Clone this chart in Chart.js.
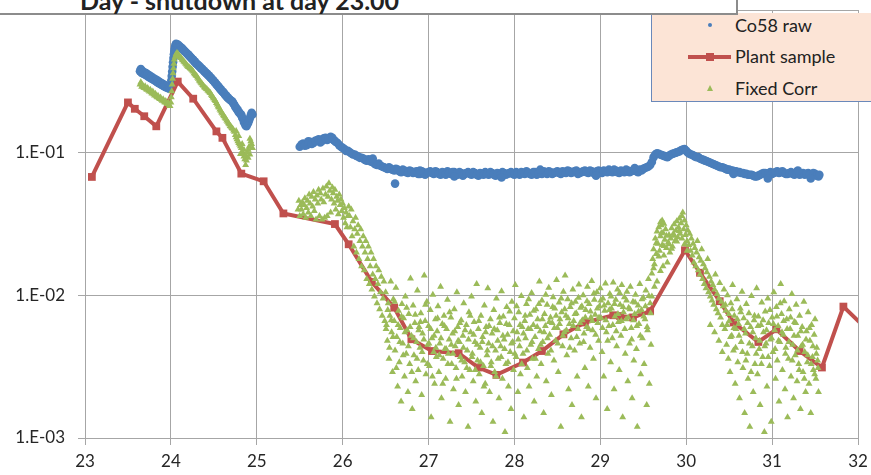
<!DOCTYPE html>
<html lang="en">
<head>
    <meta charset="UTF-8">
    <title>Co58 - shutdown at day 23.00</title>
    <script src="https://cdn.jsdelivr.net/npm/chart.js@4.4.0/dist/chart.umd.min.js"></script>
    <style>
        * { margin: 0; padding: 0; box-sizing: border-box; }
        body { width: 871px; height: 475px; overflow: hidden; background: #fff; font-family: Lato, 'Open Sans', sans-serif; }
        #page { position: relative; width: 871px; height: 475px; overflow: hidden; }
        #chart { position: absolute; left: 0; top: 0; display: block; }
        #titleBox {
            position: absolute; left: 0; top: -22px; width: 738px; height: 37px;
            background: #fff; border-right: 2px solid #8c8c8c; border-bottom: 2px solid #8c8c8c;
            z-index: 3;
        }
        #titleBox span {
            position: absolute; left: 80px; top: 7px; white-space: nowrap;
            font-weight: bold; font-size: 25px; line-height: 30px; color: #222;
        }
        #legendBox {
            position: absolute; left: 651px; top: 13px; width: 230px; height: 89px;
            background: #fce4d6; border: 1px solid #6a88ba; border-top: none; z-index: 2;
        }
        .item { position: absolute; left: 83px; font-size: 18px; line-height: 20px; color: #222; white-space: nowrap; }
        .mk { position: absolute; }
    </style>
</head>
<body>
<div id="page">
    <canvas id="chart" width="871" height="475"></canvas>
    <div id="legendBox">
        <div class="mk" style="left:56px; top:10px; width:4px; height:4px; border-radius:2px; background:#4a7ebb;"></div>
        <div class="item" style="top:1.5px;">Co58 raw</div>
        <div class="mk" style="left:36px; top:42px; width:43px; height:4px; background:#c0504d;"></div>
        <div class="mk" style="left:54px; top:40px; width:8px; height:8px; background:#c0504d;"></div>
        <div class="item" style="top:33px;">Plant sample</div>
        <div class="mk" style="left:55px; top:72px; width:0; height:0; border-left:3.5px solid transparent; border-right:3.5px solid transparent; border-bottom:6px solid #9bbb59;"></div>
        <div class="item" style="top:64.5px;">Fixed Corr</div>
    </div>
    <div id="titleBox"><span>Day - shutdown at day 23.00</span></div>
</div>

<script>
    // axis ticks
    const xTicks = [23, 24, 25, 26, 27, 28, 29, 30, 31, 32]
    const yTicks = [0.001, 0.01, 0.1, 1]
    const yTickLabels = ['1.E-03', '1.E-02', '1.E-01', '1.E+00']

    // Plant sample (line with squares)
    const plantDays = [23.08, 23.50, 23.58, 23.69, 23.83, 24.08, 24.26, 24.53, 24.60, 24.82, 25.08, 25.31, 25.91, 26.07, 26.34, 26.60, 26.80, 27.04, 27.35, 27.58, 27.79, 28.10, 28.32, 28.57, 28.82, 29.15, 29.23, 29.38, 29.58, 29.985, 30.16, 30.39, 30.55, 30.84, 31.05, 31.32, 31.58, 31.83, 32.10]
    const plantVals = [0.0676, 0.225, 0.203, 0.180, 0.153, 0.315, 0.239, 0.141, 0.127, 0.0713, 0.063, 0.0375, 0.0316, 0.0228, 0.0124, 0.0082, 0.00492, 0.00407, 0.00393, 0.00312, 0.00277, 0.00338, 0.00407, 0.00533, 0.00645, 0.00725, 0.00716, 0.00700, 0.00776, 0.0207, 0.0144, 0.0091, 0.00645, 0.00471, 0.00578, 0.00407, 0.00312, 0.00834, 0.0058]

    // Co58 raw
    const co58Early = [
        [23.64,0.372],[23.65,0.385],[23.66,0.362],[23.67,0.374],[23.68,0.358],[23.69,0.366],[23.70,0.352],[23.71,0.361],[23.72,0.346],[23.73,0.354],
        [23.74,0.340],[23.75,0.347],[23.76,0.334],[23.77,0.341],[23.78,0.329],[23.79,0.335],[23.80,0.323],[23.81,0.330],[23.82,0.318],[23.83,0.324],
        [23.84,0.312],[23.85,0.319],[23.86,0.307],[23.87,0.313],[23.88,0.302],[23.89,0.308],[23.90,0.297],[23.91,0.303],[23.92,0.292],[23.93,0.298],
        [23.94,0.288],[23.95,0.293],[23.96,0.284],[23.97,0.290],[23.98,0.281],[23.99,0.287],
        [24.00,0.30],[24.005,0.32],[24.01,0.345],[24.015,0.37],[24.02,0.40],[24.025,0.43],[24.03,0.46],[24.035,0.49],[24.04,0.515],[24.045,0.54],
        [24.05,0.555],[24.055,0.57],[24.06,0.58],[24.065,0.575],[24.07,0.568]
    ]
    const co58Peak = [
        [24.08,0.572],[24.09,0.561],[24.10,0.558],[24.11,0.548],[24.12,0.545],[24.13,0.534],[24.14,0.532],[24.15,0.520],[24.16,0.515],[24.17,0.508],
        [24.18,0.502],[24.19,0.492],[24.20,0.490],[24.21,0.478],[24.22,0.475],[24.23,0.464],[24.24,0.460],[24.25,0.452],[24.26,0.447],[24.27,0.438],
        [24.28,0.435],[24.29,0.424],[24.30,0.420],[24.31,0.414],[24.32,0.410],[24.33,0.402],[24.34,0.400],[24.35,0.391],[24.36,0.388],[24.37,0.381],
        [24.38,0.378],[24.39,0.370],[24.40,0.368],[24.41,0.361],[24.42,0.358],[24.43,0.350],[24.44,0.348],[24.45,0.341],[24.46,0.338],[24.47,0.331],
        [24.48,0.328],[24.49,0.321],[24.50,0.318],[24.51,0.311],[24.52,0.308],[24.53,0.300],[24.54,0.298],[24.55,0.291],[24.56,0.288],[24.57,0.281],
        [24.58,0.278],[24.59,0.272],[24.60,0.269],[24.61,0.264],[24.62,0.262],[24.63,0.255],[24.64,0.252],[24.65,0.247],[24.66,0.244],[24.67,0.240],
        [24.68,0.238],[24.69,0.234],[24.70,0.232],[24.71,0.229],[24.72,0.226],[24.73,0.220],[24.74,0.216],[24.75,0.209],[24.76,0.206],[24.77,0.201],
        [24.78,0.198],[24.79,0.192],[24.80,0.190],[24.81,0.186],[24.82,0.184],[24.83,0.176],[24.84,0.172],[24.85,0.164],[24.86,0.160],[24.87,0.155],
        [24.88,0.153],[24.89,0.158],[24.90,0.162],[24.91,0.168],[24.92,0.175],[24.93,0.183],[24.94,0.190],[24.95,0.185]
    ]
    const co58Late = [
        [25.50,0.110],[25.54,0.116],[25.58,0.113],[25.62,0.119],[25.66,0.117],[25.70,0.122],[25.74,0.118],[25.78,0.126],[25.82,0.123],[25.86,0.129],
        [25.90,0.122],[25.94,0.117],[25.98,0.110],[26.02,0.106],[26.06,0.103],[26.10,0.099],[26.14,0.097],[26.18,0.094],[26.22,0.092],[26.26,0.089],
        [26.30,0.090],[26.34,0.086],[26.38,0.083],[26.42,0.084],[26.46,0.080],[26.50,0.078],[26.54,0.079],[26.58,0.076],[26.62,0.077],[26.66,0.074],
        [26.70,0.076],[26.74,0.073],[26.78,0.075],[26.82,0.072],[26.86,0.074],[26.90,0.071],[26.94,0.073],[26.98,0.072],[27.02,0.074],[27.06,0.071],
        [27.10,0.073],[27.14,0.070],[27.18,0.072],[27.22,0.074],[27.26,0.071],[27.30,0.073],[27.34,0.070],[27.38,0.072],[27.42,0.071],[27.46,0.073],
        [27.50,0.070],[27.54,0.072],[27.58,0.069],[27.62,0.071],[27.66,0.073],[27.70,0.070],[27.74,0.072],[27.78,0.069],[27.82,0.071],[27.86,0.073],
        [27.90,0.070],[27.94,0.072],[27.98,0.071],[28.02,0.073],[28.06,0.070],[28.10,0.072],[28.14,0.074],[28.18,0.071],[28.22,0.073],[28.26,0.070],
        [28.30,0.072],[28.34,0.074],[28.38,0.071],[28.42,0.073],[28.46,0.072],[28.50,0.074],[28.54,0.071],[28.58,0.073],[28.62,0.075],[28.66,0.072],
        [28.70,0.074],[28.74,0.071],[28.78,0.073],[28.82,0.075],[28.86,0.072],[28.90,0.074],[28.94,0.073],[28.98,0.075],[29.02,0.072],[29.06,0.074],
        [29.10,0.076],[29.14,0.073],[29.18,0.075],[29.22,0.072],[29.26,0.074],[29.30,0.076],[29.34,0.073],[29.38,0.075],[29.42,0.074],[29.46,0.076],
        [29.50,0.077],[29.54,0.079],[29.58,0.082],[29.62,0.093],[29.66,0.099],[29.70,0.097],[29.74,0.095],[29.78,0.093],[29.82,0.097],[29.86,0.099],
        [29.90,0.101],[29.94,0.104],[29.98,0.106],[30.02,0.100],[30.06,0.097],[30.10,0.094],[30.14,0.093],[30.18,0.090],[30.22,0.088],[30.26,0.086],
        [30.30,0.084],[30.34,0.082],[30.38,0.080],[30.42,0.079],[30.46,0.077],[30.50,0.076],[30.54,0.075],[30.58,0.074],[30.62,0.073],[30.66,0.072],
        [30.70,0.071],[30.74,0.070],[30.78,0.069],[30.82,0.068],[30.86,0.070],[30.90,0.072],[30.94,0.071],[30.98,0.073],[31.02,0.072],[31.06,0.074],
        [31.10,0.073],[31.14,0.072],[31.18,0.071],[31.22,0.073],[31.26,0.070],[31.30,0.072],[31.34,0.071],[31.38,0.070],[31.42,0.072],[31.46,0.069],
        [31.50,0.071],[31.54,0.068],[26.61,0.0607]
    ]
    const co58Fill = [
        [25.52,0.114],[25.56,0.112],[25.60,0.120],[25.64,0.115],[25.68,0.121],[25.72,0.124],[25.76,0.121],[25.80,0.127],[25.84,0.125],[25.88,0.127],
        [25.92,0.119],[25.96,0.113],[26.00,0.108],[26.04,0.103],[26.08,0.101],[26.12,0.097],[26.16,0.095],[26.20,0.092],[26.24,0.091],[26.28,0.088],
        [26.32,0.087],[26.36,0.085],[26.40,0.082],[26.44,0.081],[26.48,0.079],[26.52,0.077],[26.56,0.077],[26.60,0.075],[26.64,0.076],[26.68,0.073],
        [26.72,0.075],[26.76,0.072],[26.80,0.074],[26.84,0.073],[26.88,0.071],[26.92,0.074],[26.96,0.070],[27.00,0.073],[27.04,0.072],[27.08,0.074],
        [27.12,0.071],[27.16,0.073],[27.20,0.070],[27.24,0.072],[27.28,0.073],[27.32,0.071],[27.36,0.073],[27.40,0.069],[27.44,0.072],[27.48,0.071],
        [27.52,0.073],[27.56,0.070],[27.60,0.072],[27.64,0.070],[27.68,0.071],[27.72,0.073],[27.76,0.070],[27.80,0.072],[27.84,0.070],[27.88,0.072],
        [27.92,0.071],[27.96,0.073],[28.00,0.070],[28.04,0.072],[28.08,0.073],[28.12,0.071],[28.16,0.072],[28.20,0.070],[28.24,0.073],[28.28,0.072],
        [28.32,0.071],[28.36,0.073],[28.40,0.074],[28.44,0.071],[28.48,0.073],[28.52,0.072],[28.56,0.074],[28.60,0.072],[28.64,0.074],[28.68,0.073],
        [28.72,0.075],[28.76,0.072],[28.80,0.074],[28.84,0.073],[28.88,0.075],[28.92,0.072],[28.96,0.074],[29.00,0.073],[29.04,0.075],[29.08,0.073],
        [29.12,0.074],[29.16,0.076],[29.20,0.073],[29.24,0.075],[29.28,0.073],[29.32,0.075],[29.36,0.074],[29.40,0.076],[29.44,0.073],[29.48,0.075],
        [29.52,0.078],[29.56,0.080],[29.60,0.086],[29.64,0.097],[29.68,0.098],[29.72,0.096],[29.76,0.094],[29.80,0.095],[29.84,0.098],[29.88,0.100],
        [29.92,0.102],[29.96,0.105],[30.00,0.103],[30.04,0.098],[30.08,0.096],[30.12,0.093],[30.16,0.091],[30.20,0.089],[30.24,0.087],[30.28,0.085],
        [30.32,0.083],[30.36,0.081],[30.40,0.079],[30.44,0.078],[30.48,0.076],[30.52,0.075],[30.56,0.074],[30.60,0.073],[30.64,0.072],[30.68,0.071],
        [30.72,0.070],[30.76,0.070],[30.80,0.068],[30.84,0.069],[30.88,0.071],[30.92,0.072],[30.96,0.072],[31.00,0.071],[31.04,0.073],[31.08,0.072],
        [31.12,0.074],[31.16,0.071],[31.20,0.072],[31.24,0.071],[31.28,0.073],[31.32,0.070],[31.36,0.072],[31.40,0.071],[31.44,0.070],[31.48,0.072],
        [31.52,0.069],[31.55,0.070],
        [26.35,0.091],[26.90,0.075],[27.30,0.068],[27.85,0.067],[28.30,0.076],[28.95,0.069],[29.40,0.078],[30.55,0.071],[30.95,0.066],[31.30,0.075],[31.45,0.066]
    ]

    // Fixed Corr
    const fixedEarly = [
        [23.64,0.300],[23.65,0.312],[23.66,0.290],[23.67,0.298],[23.68,0.288],[23.69,0.284],[23.70,0.292],[23.71,0.281],[23.72,0.276],[23.73,0.284],
        [23.74,0.273],[23.75,0.268],[23.76,0.276],[23.77,0.265],[23.78,0.260],[23.79,0.268],[23.80,0.257],[23.81,0.252],[23.82,0.259],[23.83,0.249],
        [23.84,0.245],[23.85,0.251],[23.86,0.242],[23.87,0.238],[23.88,0.244],[23.89,0.235],[23.90,0.231],[23.91,0.237],[23.92,0.228],[23.93,0.225],
        [23.94,0.230],[23.95,0.222],[23.96,0.219],[23.97,0.224],[23.98,0.214],[23.99,0.212],
        [24.00,0.225],[24.005,0.245],[24.01,0.27],[24.015,0.30],[24.02,0.33],[24.025,0.36],[24.03,0.39],[24.035,0.42],[24.04,0.45],[24.05,0.47],
        [24.06,0.49],[24.07,0.50]
    ]
    const fixedPeak = [
        [24.08,0.495],[24.09,0.482],[24.10,0.475],[24.11,0.466],[24.12,0.460],[24.13,0.450],[24.14,0.445],[24.15,0.436],[24.16,0.430],[24.17,0.421],
        [24.18,0.415],[24.19,0.406],[24.20,0.400],[24.21,0.398],[24.22,0.392],[24.23,0.388],[24.24,0.383],[24.25,0.376],[24.26,0.370],[24.27,0.361],
        [24.28,0.355],[24.29,0.349],[24.30,0.345],[24.31,0.336],[24.32,0.330],[24.33,0.321],[24.34,0.315],[24.35,0.309],[24.36,0.305],[24.37,0.298],
        [24.38,0.295],[24.39,0.288],[24.40,0.285],[24.41,0.280],[24.42,0.278],[24.43,0.273],[24.44,0.270],[24.45,0.265],[24.46,0.262],[24.47,0.255],
        [24.48,0.250],[24.49,0.244],[24.50,0.240],[24.51,0.234],[24.52,0.230],[24.53,0.223],[24.54,0.218],[24.55,0.211],[24.56,0.207],[24.57,0.201],
        [24.58,0.197],[24.59,0.191],[24.60,0.188],[24.61,0.183],[24.62,0.180],[24.63,0.176],[24.64,0.173],[24.65,0.168],[24.66,0.165],[24.67,0.161],
        [24.68,0.158],[24.69,0.154],[24.70,0.152],[24.71,0.149],[24.72,0.147],[24.73,0.143],[24.74,0.140],[24.75,0.133],[24.76,0.128],[24.77,0.124],
        [24.78,0.120],[24.79,0.117],[24.80,0.114],[24.81,0.111],[24.82,0.108],[24.83,0.102],[24.84,0.098],[24.85,0.094],[24.86,0.090],[24.87,0.095],
        [24.88,0.088],[24.89,0.100],[24.90,0.105],[24.91,0.110],[24.92,0.097],[24.93,0.120],[24.94,0.115],[24.95,0.108],
        [24.76,0.142],[24.79,0.131],[24.81,0.098],[24.83,0.115],[24.85,0.105],[24.87,0.082],[24.90,0.092],[24.92,0.125]
    ]
    const fixedDrop = [
        [25.48,0.040],[25.49,0.046],[25.50,0.036],[25.51,0.043],[25.52,0.040],[25.53,0.045],[25.54,0.037],[25.55,0.043],[25.56,0.048],[25.57,0.035],
        [25.58,0.041],[25.59,0.046],[25.60,0.038],[25.61,0.051],[25.62,0.044],[25.63,0.036],[25.64,0.049],[25.65,0.042],[25.66,0.053],[25.67,0.039],
        [25.68,0.047],[25.69,0.034],[25.70,0.050],[25.71,0.044],[25.72,0.055],[25.73,0.036],[25.74,0.052],[25.75,0.047],[25.76,0.034],[25.77,0.056],
        [25.78,0.045],[25.79,0.035],[25.80,0.051],[25.81,0.058],[25.82,0.036],[25.83,0.049],[25.84,0.061],[25.85,0.054],[25.86,0.038],[25.87,0.047],
        [25.88,0.057],[25.89,0.052],[25.90,0.044],[25.91,0.055],[25.92,0.040],[25.93,0.049],[25.94,0.046],[25.95,0.037],[25.96,0.051],[25.97,0.043],
        [25.98,0.047],[25.99,0.039],[26.00,0.044],[26.01,0.035],[26.02,0.041],[26.03,0.032],[26.04,0.038],[26.05,0.030],[26.06,0.036],[26.07,0.042],
        [26.08,0.036],[26.09,0.030],[26.10,0.040],[26.11,0.026],[26.12,0.033],[26.13,0.022],[26.14,0.029],[26.15,0.035],[26.16,0.020],[26.17,0.027],
        [26.18,0.031],[26.19,0.018],[26.20,0.024],[26.21,0.029],[26.22,0.016],[26.23,0.022],[26.24,0.026],[26.25,0.015],[26.26,0.020],[26.27,0.024],
        [26.28,0.013],[26.29,0.018],[26.30,0.022],[26.31,0.012],[26.32,0.016],[26.33,0.020],[26.34,0.011],[26.35,0.014],[26.36,0.018],[26.37,0.0098],
        [26.38,0.013],[26.39,0.016],[26.40,0.0088],[26.41,0.012],[26.42,0.015],[26.43,0.0080],[26.44,0.0105],[26.45,0.0135],[26.46,0.0072],[26.47,0.0095],
        [26.48,0.0125],[26.49,0.0066]
    ]
    const fixedLow = [
        [26.50,0.0105],[26.51,0.0062],[26.52,0.0048],[26.53,0.0088],[26.54,0.0036],[26.55,0.0072],[26.56,0.0125],[26.57,0.0055],[26.58,0.0029],[26.59,0.0094],
        [26.60,0.0066],[26.61,0.0041],[26.62,0.0113],[26.63,0.0051],[26.64,0.0023],[26.65,0.0078],[26.66,0.0034],[26.67,0.0059],[26.68,0.0018],[26.69,0.0087],
        [26.70,0.0046],[26.71,0.0069],[26.72,0.0027],[26.73,0.0098],[26.74,0.0039],[26.75,0.0057],[26.76,0.0021],[26.77,0.0074],[26.78,0.0033],[26.79,0.0131],
        [26.80,0.0052],[26.81,0.0016],[26.82,0.0085],[26.83,0.0038],[26.84,0.0064],[26.85,0.0025],[26.86,0.0047],[26.87,0.0108],[26.88,0.0030],[26.89,0.0060],
        [26.90,0.0043],[26.91,0.0075],[26.92,0.0020],[26.93,0.0054],[26.94,0.0035],[26.95,0.0138],[26.96,0.0066],[26.97,0.0028],[26.98,0.0090],[26.99,0.0045],
        [27.00,0.0061],[27.01,0.0032],[27.02,0.0079],[27.03,0.0014],[27.04,0.0050],[27.05,0.0101],[27.06,0.0040],[27.07,0.0024],[27.08,0.0068],[27.09,0.0037],
        [27.10,0.0056],[27.11,0.0084],[27.12,0.0029],[27.13,0.0046],[27.14,0.0115],[27.15,0.0019],[27.16,0.0063],[27.17,0.0036],[27.18,0.0072],[27.19,0.0042],
        [27.20,0.0026],[27.21,0.0058],[27.22,0.0093],[27.23,0.0039],[27.24,0.0049],[27.25,0.0013],[27.26,0.0070],[27.27,0.0033],[27.28,0.0054],[27.29,0.0022],
        [27.30,0.0080],[27.31,0.0044],[27.32,0.0031],[27.33,0.0105],[27.34,0.0060],[27.35,0.0017],[27.36,0.0047],[27.37,0.0037],[27.38,0.0067],[27.39,0.0027],
        [27.40,0.0052],[27.41,0.0088],[27.42,0.0034],[27.43,0.0021],[27.44,0.0062],[27.45,0.0041],[27.46,0.0012],[27.47,0.0076],[27.48,0.0030],[27.49,0.0055],
        [27.50,0.0098],[27.51,0.0039],[27.52,0.0025],[27.53,0.0065],[27.54,0.0047],[27.55,0.0018],[27.56,0.0120],[27.57,0.0035],[27.58,0.0058],[27.59,0.0028],
        [27.60,0.0043],[27.61,0.0072],[27.62,0.0015],[27.63,0.0051],[27.64,0.0032],[27.65,0.0085],[27.66,0.0024],[27.67,0.0060],[27.68,0.0038],[27.69,0.0112],
        [27.70,0.0046],[27.71,0.0021],[27.72,0.0068],[27.73,0.0034],[27.74,0.0054],[27.75,0.0013],[27.76,0.0079],[27.77,0.0029],[27.78,0.0041],[27.79,0.0095],
        [27.80,0.0057],[27.81,0.0036],[27.82,0.0019],[27.83,0.0064],[27.84,0.0044],[27.85,0.0107],[27.86,0.0026],[27.87,0.0071],[27.88,0.0049],[27.89,0.0011],
        [27.90,0.0033],[27.91,0.0083],[27.92,0.0053],[27.93,0.0023],[27.94,0.0062],[27.95,0.0040],[27.96,0.0016],[27.97,0.0090],[27.98,0.0047],[27.99,0.0030],
        [28.00,0.0069],[28.01,0.0118],[28.02,0.0037],[28.03,0.0055],[28.04,0.0021],[28.05,0.0076],[28.06,0.0044],[28.07,0.0028],[28.08,0.0099],[28.09,0.0060],
        [28.10,0.0039],[28.11,0.0014],[28.12,0.0066],[28.13,0.0050],[28.14,0.0087],[28.15,0.0031],[28.16,0.0058],[28.17,0.0023],[28.18,0.0073],[28.19,0.0045],
        [28.20,0.0104],[28.21,0.0036],[28.22,0.0062],[28.23,0.0018],[28.24,0.0051],[28.25,0.0080],[28.26,0.0027],[28.27,0.0068],[28.28,0.0042],[28.29,0.0125],
        [28.30,0.0056],[28.31,0.0033],[28.32,0.0092],[28.33,0.0047],[28.34,0.0015],[28.35,0.0074],[28.36,0.0061],[28.37,0.0025],[28.38,0.0086],[28.39,0.0039],
        [28.40,0.0113],[28.41,0.0053],[28.42,0.0070],[28.43,0.0020],[28.44,0.0064],[28.45,0.0097],[28.46,0.0035],[28.47,0.0081],[28.48,0.0048],[28.49,0.0128],
        [28.50,0.0059],[28.51,0.0029],[28.52,0.0089],[28.53,0.0068],[28.54,0.0012],[28.55,0.0076],[28.56,0.0044],[28.57,0.0106],[28.58,0.0055],[28.59,0.0138],
        [28.60,0.0072],[28.61,0.0038],[28.62,0.0094],[28.63,0.0022],[28.64,0.0063],[28.65,0.0083],[28.66,0.0050],[28.67,0.0017],[28.68,0.0110],[28.69,0.0066],
        [28.70,0.0041],[28.71,0.0090],[28.72,0.0075],[28.73,0.0027],[28.74,0.0058],[28.75,0.0119],[28.76,0.0046],[28.77,0.0082],[28.78,0.0014],[28.79,0.0067],
        [28.80,0.0100],[28.81,0.0054],[28.82,0.0031],[28.83,0.0079],[28.84,0.0060],[28.85,0.0115],[28.86,0.0023],[28.87,0.0087],[28.88,0.0043],[28.89,0.0070],
        [28.90,0.0126],[28.91,0.0057],[28.92,0.0036],[28.93,0.0093],[28.94,0.0073],[28.95,0.0019],[28.96,0.0105],[28.97,0.0064],[28.98,0.0048],[28.99,0.0084],
        [29.00,0.0112],[29.01,0.0069],[29.02,0.0040],[29.03,0.0095],[29.04,0.0027],[29.05,0.0078],[29.06,0.0121],[29.07,0.0055],[29.08,0.0016],[29.09,0.0088],
        [29.10,0.0061],[29.11,0.0102],[29.12,0.0034],[29.13,0.0081],[29.14,0.0050],[29.15,0.0123],[29.16,0.0022],[29.17,0.0071],[29.18,0.0093],[29.19,0.0044],
        [29.20,0.0110],[29.21,0.0065],[29.22,0.0030],[29.23,0.0086],[29.24,0.0052],[29.25,0.0118],[29.26,0.0014],[29.27,0.0076],[29.28,0.0097],[29.29,0.0039],
        [29.30,0.0068],[29.31,0.0106],[29.32,0.0025],[29.33,0.0082],[29.34,0.0046],[29.35,0.0115],[29.36,0.0059],[29.37,0.0019],[29.38,0.0090],[29.39,0.0035],
        [29.40,0.0074],[29.41,0.0101],[29.42,0.0042],[29.43,0.0012],[29.44,0.0085],[29.45,0.0063],[29.46,0.0120],[29.47,0.0028],[29.48,0.0079],[29.49,0.0050],
        [29.50,0.0096],[29.51,0.0033],[29.52,0.0068],[29.53,0.0108],[29.54,0.0017],[29.55,0.0057],[29.56,0.0130],[29.57,0.0024],[29.58,0.0088],[29.59,0.0045]
    ]
    const fixedLowDense = [
        [26.505,0.0058],[26.525,0.0079],[26.545,0.0043],[26.565,0.0067],[26.585,0.0051],[26.605,0.0090],[26.625,0.0031],[26.645,0.0062],[26.665,0.0047],[26.685,0.0071],
        [26.705,0.0038],[26.725,0.0055],[26.745,0.0082],[26.765,0.0044],[26.785,0.0060],[26.805,0.0029],[26.825,0.0050],[26.845,0.0073],[26.865,0.0036],[26.885,0.0057],
        [26.905,0.0065],[26.925,0.0040],[26.945,0.0049],[26.965,0.0086],[26.985,0.0033],[27.005,0.0046],[27.025,0.0058],[27.045,0.0027],[27.065,0.0052],[27.085,0.0043],
        [27.105,0.0069],[27.125,0.0038],[27.145,0.0050],[27.165,0.0024],[27.185,0.0061],[27.205,0.0042],[27.225,0.0033],[27.245,0.0076],[27.265,0.0045],[27.285,0.0039],
        [27.305,0.0056],[27.325,0.0026],[27.345,0.0048],[27.365,0.0064],[27.385,0.0035],[27.405,0.0043],[27.425,0.0057],[27.445,0.0031],[27.465,0.0049],[27.485,0.0072],
        [27.505,0.0037],[27.525,0.0053],[27.545,0.0030],[27.565,0.0045],[27.585,0.0066],[27.605,0.0034],[27.625,0.0047],[27.645,0.0023],[27.665,0.0055],[27.685,0.0041],
        [27.705,0.0061],[27.725,0.0032],[27.745,0.0044],[27.765,0.0058],[27.785,0.0027],[27.805,0.0048],[27.825,0.0070],[27.845,0.0037],[27.865,0.0052],[27.885,0.0042],
        [27.905,0.0063],[27.925,0.0034],[27.945,0.0077],[27.965,0.0046],[27.985,0.0056],[28.005,0.0039],[28.025,0.0084],[28.045,0.0049],[28.065,0.0062],[28.085,0.0033],
        [28.105,0.0054],[28.125,0.0072],[28.145,0.0041],[28.165,0.0094],[28.185,0.0058],[28.205,0.0047],[28.225,0.0078],[28.245,0.0036],[28.265,0.0060],[28.285,0.0087],
        [28.305,0.0045],[28.325,0.0068],[28.345,0.0055],[28.365,0.0101],[28.385,0.0050],[28.405,0.0065],[28.425,0.0041],[28.445,0.0083],[28.465,0.0059],[28.485,0.0072],
        [28.505,0.0046],[28.525,0.0063],[28.545,0.0095],[28.565,0.0052],[28.585,0.0080],[28.605,0.0057],[28.625,0.0069],[28.645,0.0043],[28.665,0.0088],[28.685,0.0061],
        [28.705,0.0074],[28.725,0.0051],[28.745,0.0096],[28.765,0.0064],[28.785,0.0084],[28.805,0.0047],[28.825,0.0070],[28.845,0.0091],[28.865,0.0058],[28.885,0.0077],
        [28.905,0.0066],[28.925,0.0103],[28.945,0.0053],[28.965,0.0081],[28.985,0.0070],[29.005,0.0092],[29.025,0.0059],[29.045,0.0085],[29.065,0.0067],[29.085,0.0048],
        [29.105,0.0079],[29.125,0.0098],[29.145,0.0062],[29.165,0.0087],[29.185,0.0056],[29.205,0.0074],[29.225,0.0104],[29.245,0.0066],[29.265,0.0083],[29.285,0.0058],
        [29.305,0.0092],[29.325,0.0070],[29.345,0.0080],[29.365,0.0049],[29.385,0.0067],[29.405,0.0089],[29.425,0.0061],[29.445,0.0077],[29.465,0.0052],[29.485,0.0094],
        [29.505,0.0071],[29.525,0.0084],[29.545,0.0060],[29.565,0.0099],[29.585,0.0075]
    ]
    const fixedSpike = [
        [29.60,0.0142],[29.61,0.0180],[29.62,0.0210],[29.63,0.0165],[29.64,0.0250],[29.65,0.0195],[29.66,0.0280],[29.67,0.0230],[29.68,0.0300],[29.69,0.0205],
        [29.70,0.0260],[29.71,0.0310],[29.72,0.0225],[29.73,0.0275],[29.74,0.0190],[29.75,0.0245],[29.76,0.0290],[29.77,0.0215],[29.78,0.0170],[29.79,0.0235],
        [29.80,0.0265],[29.81,0.0200],[29.82,0.0250],[29.83,0.0295],[29.84,0.0220],[29.85,0.0270],[29.86,0.0315],[29.87,0.0240],[29.88,0.0285],[29.89,0.0330],
        [29.90,0.0255],[29.91,0.0300],[29.92,0.0345],[29.93,0.0270],[29.94,0.0320],[29.95,0.0360],[29.96,0.0380],[29.97,0.0290],[29.98,0.0335],[29.99,0.0265],
        [30.00,0.0310],[30.01,0.0240],[30.02,0.0285],[30.03,0.0225],[30.04,0.0270],[30.05,0.0205],
        [29.62,0.0155],[29.65,0.0232],[29.68,0.0187],[29.71,0.0272],[29.74,0.0222],[29.77,0.0262],[29.80,0.0228],[29.83,0.0212],[29.86,0.0262],[29.89,0.0238],
        [29.92,0.0282],[29.95,0.0250],[29.98,0.0228],[30.01,0.0205],[29.60,0.0098],[29.63,0.0115],[29.66,0.0125],[29.70,0.0148],[29.73,0.0160],
        [29.70,0.0325],[29.72,0.0335],[29.74,0.0318],
        [30.06,0.0250],[30.07,0.0190],[30.08,0.0230],[30.09,0.0170],[30.10,0.0215],[30.11,0.0160],[30.12,0.0200],[30.13,0.0240],[30.14,0.0150],[30.15,0.0185],
        [30.16,0.0140],[30.17,0.0175],[30.18,0.0210],[30.19,0.0130],[30.20,0.0165],[30.21,0.0120],[30.22,0.0155],[30.23,0.0112],[30.24,0.0145],[30.25,0.0180],
        [30.26,0.0105],[30.27,0.0135],[30.28,0.0098],[30.29,0.0125],[30.30,0.0092],[30.31,0.0118],[30.32,0.0086],[30.33,0.0110],[30.34,0.0140],[30.35,0.0080],
        [30.36,0.0102],[30.37,0.0075],[30.38,0.0095],[30.39,0.0122],[30.40,0.0070],[30.41,0.0090],[30.42,0.0062],[30.43,0.0084],[30.44,0.0110],[30.45,0.0058],
        [30.28,0.0062],[30.33,0.0055],[30.38,0.0048],[30.42,0.0040]
    ]
    const fixedTail = [
        [30.46,0.0078],[30.47,0.0045],[30.48,0.0100],[30.49,0.0036],[30.50,0.0066],[30.51,0.0029],[30.52,0.0088],[30.53,0.0052],[30.54,0.0118],[30.55,0.0041],
        [30.56,0.0072],[30.57,0.0024],[30.58,0.0058],[30.59,0.0094],[30.60,0.0034],[30.61,0.0063],[30.62,0.0019],[30.63,0.0081],[30.64,0.0047],[30.65,0.0106],
        [30.66,0.0031],[30.67,0.0069],[30.68,0.0015],[30.69,0.0054],[30.70,0.0087],[30.71,0.0039],[30.72,0.0026],[30.73,0.0075],[30.74,0.0012],[30.75,0.0060],
        [30.76,0.0099],[30.77,0.0044],[30.78,0.0021],[30.79,0.0067],[30.80,0.0033],[30.81,0.0050],[30.82,0.0112],[30.83,0.0028],[30.84,0.0071],[30.85,0.0042],
        [30.86,0.0017],[30.87,0.0062],[30.88,0.0089],[30.89,0.0037],[30.90,0.0055],[30.91,0.0011],[30.92,0.0077],[30.93,0.0046],[30.94,0.0023],[30.95,0.0095],
        [30.96,0.0064],[30.97,0.0032],[30.98,0.0049],[30.99,0.0013],[31.00,0.0070],[31.01,0.0040],[31.02,0.0105],[31.03,0.0057],[31.04,0.0026],[31.05,0.0083],
        [31.06,0.0035],[31.07,0.0061],[31.08,0.0018],[31.09,0.0047],[31.10,0.0120],[31.11,0.0074],[31.12,0.0030],[31.13,0.0053],[31.14,0.0091],[31.15,0.0022],
        [31.16,0.0043],[31.17,0.0068],[31.18,0.0014],[31.19,0.0036],[31.20,0.0080],[31.21,0.0058],[31.22,0.0027],[31.23,0.0102],[31.24,0.0045],[31.25,0.0019],
        [31.26,0.0065],[31.27,0.0038],[31.28,0.0086],[31.29,0.0025],[31.30,0.0052],[31.31,0.0033],[31.32,0.0072],[31.33,0.0016],[31.34,0.0044],[31.35,0.0060],
        [31.36,0.0029],[31.37,0.0090],[31.38,0.0040],[31.39,0.0021],[31.40,0.0056],[31.41,0.0034],[31.42,0.0076],[31.43,0.0024],[31.44,0.0048],[31.45,0.0015],
        [31.46,0.0062],[31.47,0.0037],[31.48,0.0030],[31.49,0.0053],[31.50,0.0068],[31.51,0.0026],[31.52,0.0043],[31.53,0.0035],[31.54,0.0021]
    ]
    const fixedTailDense = [
        [30.455,0.0086],[30.475,0.0062],[30.495,0.0074],[30.515,0.0051],[30.535,0.0080],[30.555,0.0059],[30.575,0.0043],[30.595,0.0068],[30.615,0.0052],[30.635,0.0076],
        [30.655,0.0040],[30.675,0.0058],[30.695,0.0035],[30.715,0.0064],[30.735,0.0046],[30.755,0.0029],[30.775,0.0055],[30.795,0.0072],[30.815,0.0039],[30.835,0.0061],
        [30.855,0.0048],[30.875,0.0033],[30.895,0.0067],[30.915,0.0044],[30.935,0.0057],[30.955,0.0037],[30.975,0.0079],[30.995,0.0050],[31.015,0.0063],[31.035,0.0042],
        [31.055,0.0071],[31.075,0.0048],[31.095,0.0088],[31.115,0.0055],[31.135,0.0066],[31.155,0.0039],[31.175,0.0058],[31.195,0.0047],[31.215,0.0070],[31.235,0.0035],
        [31.255,0.0052],[31.275,0.0064],[31.295,0.0041],[31.315,0.0030],[31.335,0.0056],[31.355,0.0045],[31.375,0.0026],[31.395,0.0049],[31.415,0.0038],[31.435,0.0059],
        [31.455,0.0033],[31.475,0.0044],[31.495,0.0028],[31.515,0.0039],[31.535,0.0031]
    ]

    const co58Raw = [...co58Early, ...co58Peak, ...co58Late, ...co58Fill]
    const fixedCorr = [...fixedEarly, ...fixedPeak, ...fixedDrop, ...fixedLow, ...fixedLowDense, ...fixedSpike, ...fixedTail, ...fixedTailDense]
    const plantSample = plantDays.map((d, i) => [d, plantVals[i]])

    const gridColor = '#a6a6a6'
    const tickFont = { family: 'Lato', size: 17 }

    function makeChart() {
        const ctx = document.getElementById('chart').getContext('2d')
        new Chart(ctx, {
            type: 'scatter',
            data: {
                datasets: [
                    {
                        label: 'Fixed Corr',
                        data: fixedCorr,
                        order: 0,
                        pointStyle: 'triangle',
                        pointRadius: 4,
                        pointBorderWidth: 0,
                        backgroundColor: '#9bbb59',
                        borderColor: '#9bbb59'
                    },
                    {
                        label: 'Plant sample',
                        data: plantSample,
                        order: 1,
                        showLine: true,
                        clip: 0,
                        borderColor: '#c0504d',
                        borderWidth: 4,
                        pointStyle: 'rect',
                        pointRadius: 5.5,
                        pointBorderWidth: 0,
                        backgroundColor: '#c0504d'
                    },
                    {
                        label: 'Co58 raw',
                        data: co58Raw,
                        order: 2,
                        pointStyle: 'circle',
                        pointRadius: 4.3,
                        pointBorderWidth: 0,
                        backgroundColor: '#4a7ebb',
                        borderColor: '#4a7ebb'
                    }
                ]
            },
            options: {
                responsive: false,
                animation: false,
                devicePixelRatio: 1,
                layout: { padding: { top: 10, right: 13, left: 0, bottom: 0 } },
                plugins: {
                    legend: { display: false },
                    tooltip: { enabled: false }
                },
                scales: {
                    x: {
                        type: 'linear',
                        min: 23,
                        max: 32,
                        afterBuildTicks: scale => { scale.ticks = xTicks.map(v => ({ value: v })) },
                        afterFit: scale => { scale.height = 37; scale.paddingLeft = 0; scale.paddingRight = 0 },
                        grid: { color: gridColor, lineWidth: 1, tickLength: 7 },
                        border: { color: gridColor, width: 1 },
                        ticks: { color: '#262626', font: tickFont, padding: 6, maxRotation: 0, autoSkip: false }
                    },
                    y: {
                        type: 'logarithmic',
                        min: 0.001,
                        max: 1,
                        afterBuildTicks: scale => { scale.ticks = yTicks.map(v => ({ value: v })) },
                        afterFit: scale => { scale.width = 85; scale.paddingTop = 0; scale.paddingBottom = 0 },
                        grid: { color: gridColor, lineWidth: 1, tickLength: 7 },
                        border: { color: gridColor, width: 1 },
                        ticks: {
                            color: '#262626',
                            font: tickFont,
                            padding: 13,
                            autoSkip: false,
                            callback: (value, index) => yTickLabels[index]
                        }
                    }
                }
            }
        })
    }
    makeChart()
</script>
</body>
</html>
